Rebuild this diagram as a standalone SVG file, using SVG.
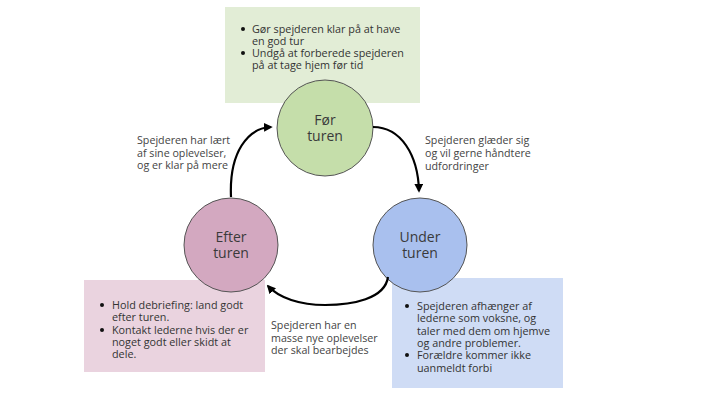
<svg xmlns="http://www.w3.org/2000/svg" width="720" height="405" viewBox="0 0 720 405">
<defs>
<style>
.box-g{fill:#e2edd6}
.box-p{fill:#ead3df}
.box-b{fill:#cfdcf5}
.circ{stroke:#555;stroke-width:1}
.ct{font-family:"Open Sans","Noto Sans",sans-serif;font-size:14px;fill:#3a3a3a;text-anchor:middle}
.bt{font-family:"Open Sans","Noto Sans",sans-serif;font-size:10.8px;fill:#333}
.lt{font-family:"Open Sans","Noto Sans",sans-serif;font-size:10.7px;fill:#444}
.edge{fill:none;stroke:#000;stroke-width:2.2}
.dot{fill:#111}
</style>
<marker id="ah" viewBox="0 0 10 10" refX="8" refY="5" markerWidth="4" markerHeight="4" orient="auto" markerUnits="strokeWidth">
<path d="M0,0 L10,5 L0,10 z" fill="#000"/>
</marker>
</defs>
<rect width="720" height="405" fill="#fff"/>

<g id="box-foer">
<rect class="box-g" x="225" y="7" width="195" height="96"/>
<circle class="dot" cx="243" cy="29" r="2"/>
<circle class="dot" cx="243" cy="53" r="2"/>
<text class="bt" x="252" y="33">Gør spejderen klar på at have</text>
<text class="bt" x="252" y="45">en god tur</text>
<text class="bt" x="252" y="57">Undgå at forberede spejderen</text>
<text class="bt" x="252" y="69">på at tage hjem før tid</text>
</g>

<g id="box-efter">
<rect class="box-p" x="84" y="280" width="181" height="92"/>
<circle class="dot" cx="102" cy="305" r="2"/>
<circle class="dot" cx="102" cy="330" r="2"/>
<text class="bt" x="112" y="309">Hold debriefing: land godt</text>
<text class="bt" x="112" y="321">efter turen.</text>
<text class="bt" x="112" y="334">Kontakt lederne hvis der er</text>
<text class="bt" x="112" y="346">noget godt eller skidt at</text>
<text class="bt" x="112" y="358">dele.</text>
</g>

<g id="box-under">
<rect class="box-b" x="392" y="278" width="171" height="110"/>
<circle class="dot" cx="407" cy="306" r="2"/>
<circle class="dot" cx="407" cy="355" r="2"/>
<text class="bt" x="417" y="310">Spejderen afhænger af</text>
<text class="bt" x="417" y="322">lederne som voksne, og</text>
<text class="bt" x="417" y="335">taler med dem om hjemve</text>
<text class="bt" x="417" y="347">og andre problemer.</text>
<text class="bt" x="417" y="359">Forældre kommer ikke</text>
<text class="bt" x="417" y="372">uanmeldt forbi</text>
</g>

<g id="node-foer">
<circle class="circ" cx="325" cy="128" r="48" fill="#c5deaa"/>
<text class="ct" x="325" y="125">Før</text>
<text class="ct" x="325" y="141">turen</text>
</g>

<g id="node-efter">
<circle class="circ" cx="231" cy="245" r="47" fill="#d3a8c0"/>
<text class="ct" x="231" y="242">Efter</text>
<text class="ct" x="231" y="258">turen</text>
</g>

<g id="node-under">
<circle class="circ" cx="420" cy="245" r="47" fill="#a9c0ee"/>
<text class="ct" x="420" y="242">Under</text>
<text class="ct" x="420" y="258">turen</text>
</g>

<g id="connectors">
<path class="edge" d="M373,127 C401,127 418,155 419,191" marker-end="url(#ah)"/>
<path class="edge" d="M388,277 C385,299 352,305 325,305 C300,305 279,298 268,286" marker-end="url(#ah)"/>
<path class="edge" d="M231,197 C229,152 248,128 271,127" marker-end="url(#ah)"/>
</g>

<g id="labels">
<text class="lt" x="137" y="144">Spejderen har lært</text>
<text class="lt" x="137" y="157">af sine oplevelser,</text>
<text class="lt" x="137" y="169">og er klar på mere</text>
<text class="lt" x="425" y="144">Spejderen glæder sig</text>
<text class="lt" x="425" y="157">og vil gerne håndtere</text>
<text class="lt" x="425" y="170">udfordringer</text>
<text class="lt" x="271" y="329">Spejderen har en</text>
<text class="lt" x="271" y="342">masse nye oplevelser</text>
<text class="lt" x="271" y="354">der skal bearbejdes</text>
</g>
</svg>
